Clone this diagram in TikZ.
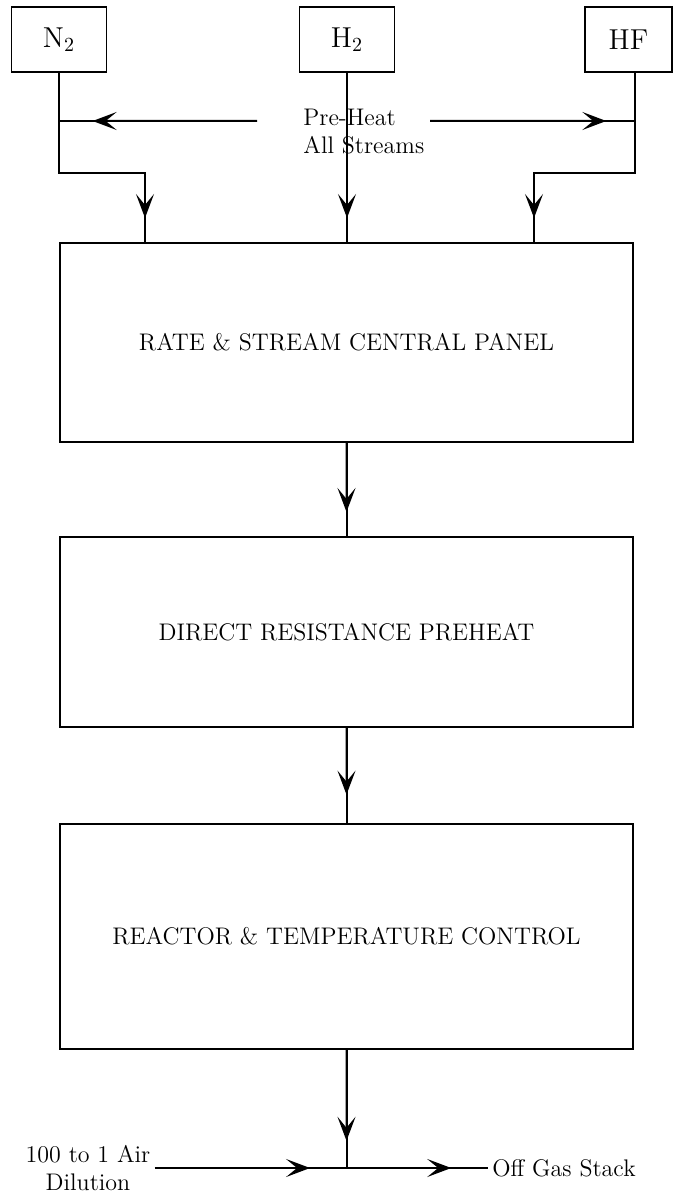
\documentclass[tikz,border=0pt]{standalone}
\usetikzlibrary{positioning,arrows.meta,calc}

\begin{document}
\begin{tikzpicture}[x=0.5pt,y=-0.5pt,
    gas/.style={draw,line width=0.7pt,inner sep=0pt,font=\Large,
                minimum width=47.5pt,minimum height=32.5pt},
    unit/.style={draw,line width=0.7pt,inner sep=0pt,font=\large,
                 minimum width=286.5pt},
    pipe/.style={line width=1pt},
    tip/.style={line width=1pt,-{Stealth[length=12pt,width=9pt,inset=5.5pt]}},
    lbl/.style={font=\large,inner sep=2pt}]
  \useasboundingbox (0,0) rectangle (673,1198);

  % gas supplies
  \node[gas] (n2) at (59,39.5) {N$_2$};
  \node[gas] (h2) at (347,39.5) {H$_2$};
  \node[gas,minimum width=43.5pt] (hf) at (628.5,39.5) {HF};

  % process units
  \node[unit,minimum height=99.5pt] (panel) at (346.5,342.5) {RATE \& STREAM CENTRAL PANEL};
  \node[unit,minimum height=95pt] (heater) at (346.5,632) {DIRECT RESISTANCE PREHEAT};
  \node[unit,minimum height=112.5pt] (reactor) at (346.5,936.5) {REACTOR \& TEMPERATURE CONTROL};

  \node[lbl,anchor=west,align=left] (heat) at (299,132) {Pre-Heat\\All Streams};
  \node[lbl,align=center] (air) at (88,1168) {100 to 1 Air\\Dilution};
  \node[lbl,anchor=west] (stack) at (488,1168) {Off Gas Stack};

  \coordinate (nbend) at (145,173);
  \coordinate (hbend) at (534,173);
  \coordinate (hfout) at (635,72);
  \coordinate (droptip) at (0,218);
  \coordinate (hl) at (257,121);
  \coordinate (hr) at (430,121);
  \coordinate (mix) at (346.5,1168);

  % feed lines into the panel
  \draw[pipe] (n2) -- (n2 |- nbend) -- (nbend) -- (nbend |- panel.north);
  \draw[tip] (nbend) -- (nbend |- droptip);
  \draw[pipe] (h2) -- (h2 |- panel.north);
  \draw[tip] (h2.south) -- (h2 |- droptip);
  \draw[pipe] (hfout) -- (hfout |- hbend) -- (hbend) -- (hbend |- panel.north);
  \draw[tip] (hbend) -- (hbend |- droptip);

  % preheat on all streams
  \draw[pipe] (hl) -- (hl -| n2);
  \draw[tip] (hl) -- ($(hl)!0.83!(hl -| n2)$);
  \draw[pipe] (hr) -- (hr -| hfout);
  \draw[tip] (hr) -- ($(hr)!0.86!(hr -| hfout)$);

  % main train
  \draw[pipe] (panel) -- (heater);
  \draw[tip] (panel.south) -- ($(panel.south)!0.74!(heater.north)$);
  \draw[pipe] (heater) -- (reactor);
  \draw[tip] (heater.south) -- ($(heater.south)!0.7!(reactor.north)$);
  \draw[pipe] (reactor.south) -- (mix);
  \draw[tip] (reactor.south) -- ($(reactor.south)!0.77!(mix)$);

  % dilution and off gas
  \draw[pipe] (air.east) -- (mix) -- (stack.west);
  \draw[tip] (air.east) -- ($(air.east)!0.81!(mix)$);
  \draw[tip] (mix) -- ($(mix)!0.74!(stack.west)$);
\end{tikzpicture}
\end{document}
